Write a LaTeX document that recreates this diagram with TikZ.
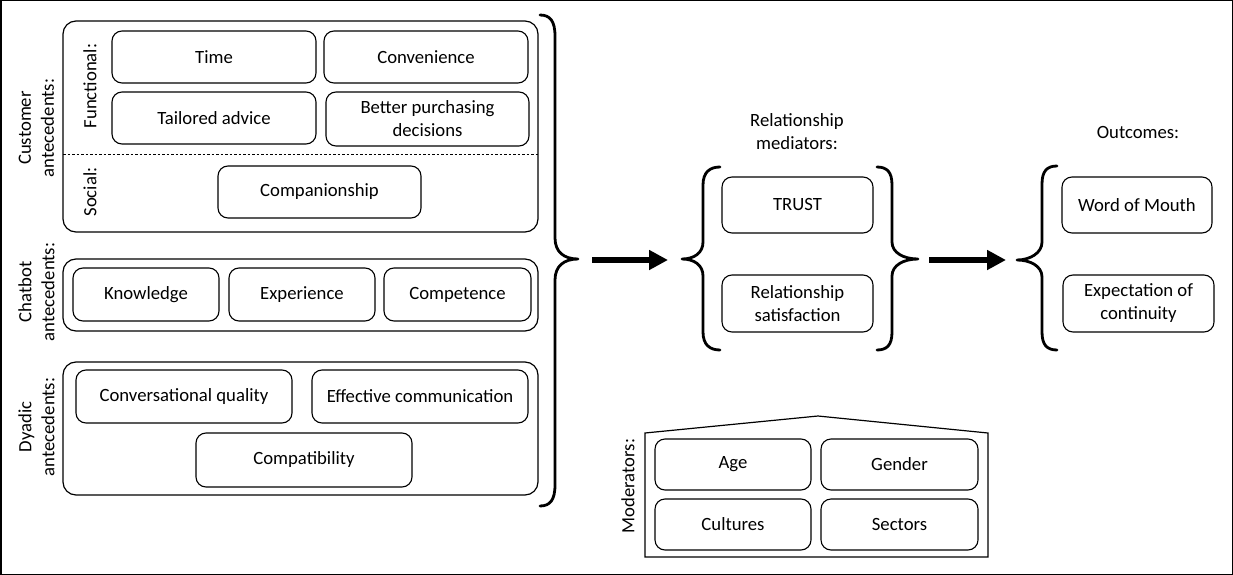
\documentclass[tikz,border=0pt]{standalone}
\usepackage{fontspec}
\setmainfont{Carlito}
\usetikzlibrary{arrows.meta}
\begin{document}
\begin{tikzpicture}[x=1pt,y=-1pt,
  txt/.style={font=\fontsize{18.7}{23}\selectfont, align=center},
  item/.style={txt, draw, rounded corners=10pt, line width=1.1pt, inner sep=0pt},
  group/.style={draw, rounded corners=13pt, line width=1.2pt},
  lbl/.style={txt, rotate=90, inner sep=0pt},
  brace/.style={line width=2.8pt, line cap=round, line join=round},
  bigarrow/.style={line width=5.5pt, -{Triangle[length=19pt,width=19pt]}}]
\useasboundingbox (0,0) rectangle (1233,575);
\draw[line width=1.5pt] (0.75,0.75) rectangle (1232.25,574.25);

% group boxes
\draw[group] (63,21) rectangle (538,232);
\draw[group] (63,259) rectangle (538,331);
\draw[group] (63,362) rectangle (538,495);
\draw[line width=0.8pt, dash pattern=on 2.5pt off 2pt] (63,154) -- (538,154);

% side labels
\node[lbl] (lcust) at (36.5,128) {Customer\\antecedents:};
\node[lbl] (lchat) at (36.5,292) {Chatbot\\antecedents:};
\node[lbl] (ldyad) at (36.5,427) {Dyadic\\antecedents:};
\node[lbl] (lfunc) at (90,86) {Functional:};
\node[lbl] (lsoc) at (90,192) {Social:};
\node[lbl] (lmod) at (628,486) {Moderators:};

% customer items
\node[item, minimum width=204pt, minimum height=52pt] (time) at (214,57) {Time};
\node[item, minimum width=204pt, minimum height=52pt] (conv) at (426,57) {Convenience};
\node[item, minimum width=204pt, minimum height=52pt] (tail) at (214,118) {Tailored advice};
\node[item, minimum width=203pt, minimum height=54pt] (better) at (427.5,119) {Better purchasing\\decisions};
\node[item, minimum width=203pt, minimum height=52pt] (comp) at (319.5,192) {Companionship};

% chatbot items
\node[item, minimum width=146pt, minimum height=53pt] (know) at (146,294.5) {Knowledge};
\node[item, minimum width=146pt, minimum height=53pt] (exper) at (302,294.5) {Experience};
\node[item, minimum width=147pt, minimum height=53pt] (compet) at (457.5,294.5) {Competence};

% dyadic items
\node[item, minimum width=216pt, minimum height=53pt] (cq) at (184,396.5) {Conversational quality};
\node[item, minimum width=216pt, minimum height=53pt] (ec) at (420,396.5) {Effective communication};
\node[item, minimum width=216pt, minimum height=54pt] (compat) at (304,460) {Compatibility};

% big brace
\draw[brace] (540,15) .. controls (550,15) and (555,21) .. (555,36) -- (555,238)
  .. controls (555,252) and (564,259) .. (578,259)
  .. controls (564,259) and (555,266) .. (555,280) -- (555,485)
  .. controls (555,500) and (550,506) .. (540,506);

% mediators
\node[txt] (lmed) at (797,132) {Relationship\\mediators:};
\draw[brace] (720,167) .. controls (710,167) and (703,172) .. (703,185) -- (703,242)
  .. controls (703,253) and (694,259) .. (682,259)
  .. controls (694,259) and (703,265) .. (703,276) -- (703,332)
  .. controls (703,345) and (710,350) .. (720,350);
\node[item, minimum width=151pt, minimum height=56pt] (trust) at (797.5,205) {TRUST};
\node[item, minimum width=151pt, minimum height=57pt] (rs) at (797.5,303.5) {Relationship\\satisfaction};
\draw[brace] (877,167) .. controls (887,167) and (892,172) .. (892,185) -- (892,242)
  .. controls (892,253) and (904,259) .. (918,259)
  .. controls (904,259) and (892,265) .. (892,276) -- (892,332)
  .. controls (892,345) and (887,350) .. (877,350);

% outcomes
\node[txt] (lout) at (1138,133) {Outcomes:};
\draw[brace] (1057,166) .. controls (1047,166) and (1042,171) .. (1042,184) -- (1042,242)
  .. controls (1042,253) and (1030,260) .. (1017,260)
  .. controls (1030,260) and (1042,266) .. (1042,277) -- (1042,332)
  .. controls (1042,345) and (1047,350) .. (1057,350);
\node[item, minimum width=150pt, minimum height=56pt] (wom) at (1137,205) {Word of Mouth};
\node[item, minimum width=151pt, minimum height=57pt] (expc) at (1138.5,303.5) {Expectation of\\continuity};

% arrows
\coordinate (a1s) at (592,260);
\coordinate (a1e) at (668,260);
\coordinate (a2s) at (929,260);
\coordinate (a2e) at (1006,260);
\draw[bigarrow] (a1s) -- (a1e);
\draw[bigarrow] (a2s) -- (a2e);

% moderators house
\draw[line width=1.2pt, line join=miter] (645,433) -- (818,416) -- (988,433) -- (988,557) -- (645,557) -- cycle;
\node[item, minimum width=156pt, minimum height=51pt] (age) at (733,464.5) {Age};
\node[item, minimum width=157pt, minimum height=51pt] (gender) at (899.5,464.5) {Gender};
\node[item, minimum width=156pt, minimum height=51pt] (cult) at (733,524.5) {Cultures};
\node[item, minimum width=157pt, minimum height=51pt] (sect) at (899.5,524.5) {Sectors};
\end{tikzpicture}
\end{document}
